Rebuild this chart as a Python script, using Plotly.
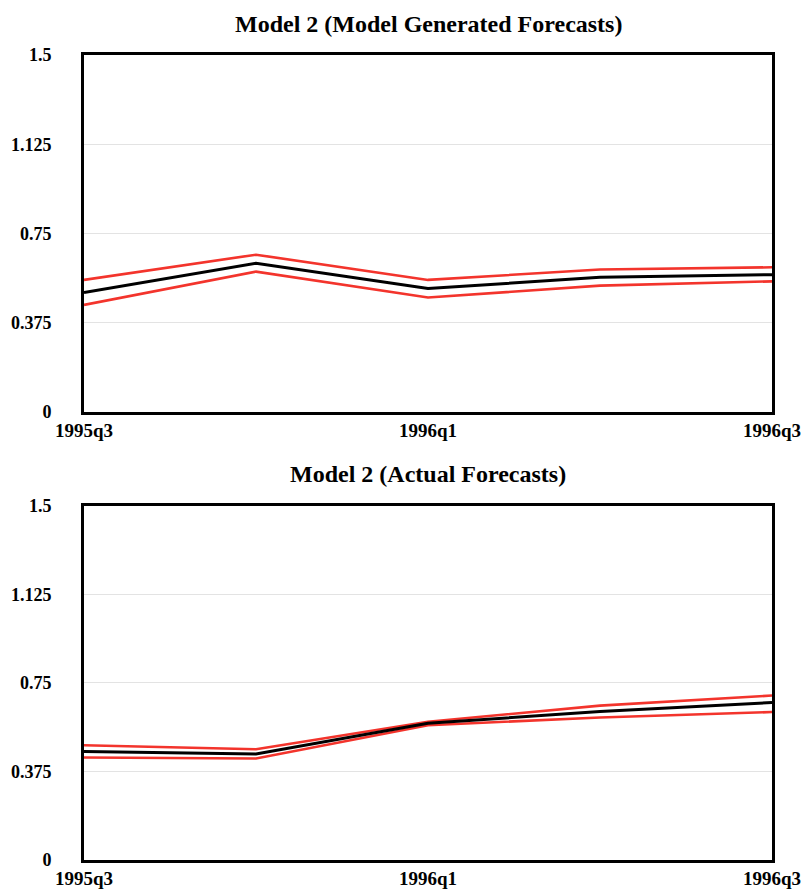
import plotly.graph_objects as go
from plotly.subplots import make_subplots

quarters = ["1995q3", "1995q4", "1996q1", "1996q2", "1996q3"]
x_tick_labels = ["1995q3", "1996q1", "1996q3"]
y_tick_vals = [0, 0.375, 0.75, 1.125, 1.5]
y_tick_text = ["0", "0.375", "0.75", "1.125", "1.5"]

titles = ["Model 2 (Model Generated Forecasts)", "Model 2 (Actual Forecasts)"]

# Panel 1: model generated forecasts
gen_mid = [0.502, 0.625, 0.519, 0.566, 0.577]
gen_upper = [0.555, 0.661, 0.555, 0.599, 0.608]
gen_lower = [0.450, 0.590, 0.481, 0.531, 0.549]

# Panel 2: actual forecasts
act_mid = [0.460, 0.449, 0.579, 0.629, 0.667]
act_upper = [0.486, 0.469, 0.586, 0.654, 0.697]
act_lower = [0.434, 0.430, 0.571, 0.604, 0.627]

RED = "#f3342c"
FONT = "Liberation Serif"

fig = make_subplots(rows=2, cols=1, vertical_spacing=0.0)

panels = [(gen_mid, gen_upper, gen_lower), (act_mid, act_upper, act_lower)]
for i, (mid, up, lo) in enumerate(panels, start=1):
    fig.add_trace(go.Scatter(x=quarters, y=up, mode="lines",
                             line=dict(color=RED, width=2.6), showlegend=False), row=i, col=1)
    fig.add_trace(go.Scatter(x=quarters, y=lo, mode="lines",
                             line=dict(color=RED, width=2.6), showlegend=False), row=i, col=1)
    fig.add_trace(go.Scatter(x=quarters, y=mid, mode="lines",
                             line=dict(color="black", width=3), showlegend=False), row=i, col=1)

axis_common_x = dict(
    type="category", range=[0, 4], tickmode="array", tickvals=x_tick_labels,
    ticktext=x_tick_labels, showgrid=False, zeroline=False, showline=True,
    mirror=True, linecolor="black", linewidth=3, ticks="", automargin=False,
    tickfont=dict(family=FONT, size=19, color="black", weight="bold"),
    ticklabelstandoff=-1,
)
axis_common_y = dict(
    range=[0, 1.5], tickmode="array", tickvals=y_tick_vals, ticktext=y_tick_text,
    showgrid=True, gridcolor="#e3e3e3", gridwidth=1, zeroline=False, showline=True,
    mirror=True, linecolor="black", linewidth=3, ticks="", automargin=False,
    tickfont=dict(family=FONT, size=18, color="black", weight="bold"),
    ticklabelstandoff=26,
)

fig.update_layout(
    width=805, height=889,
    margin=dict(l=84, r=33, t=55, b=29),
    paper_bgcolor="white", plot_bgcolor="white",
    xaxis=dict(domain=[0, 1], **axis_common_x),
    xaxis2=dict(domain=[0, 1], **axis_common_x),
    yaxis=dict(domain=[0.5565, 1.0], **axis_common_y),
    yaxis2=dict(domain=[0.0, 0.4398], **axis_common_y),
    annotations=[
        dict(text=titles[0], xref="paper", yref="paper", x=0.5, y=1.0385,
             xanchor="center", yanchor="middle", showarrow=False,
             font=dict(family=FONT, size=24, color="black", weight="bold")),
        dict(text=titles[1], xref="paper", yref="paper", x=0.5, y=0.4795,
             xanchor="center", yanchor="middle", showarrow=False,
             font=dict(family=FONT, size=24, color="black", weight="bold")),
    ],
)

fig.write_html(
    "out.html",
    config={"displayModeBar": False},
    post_script="document.body.style.margin='0';document.body.style.overflow='hidden';",
)
